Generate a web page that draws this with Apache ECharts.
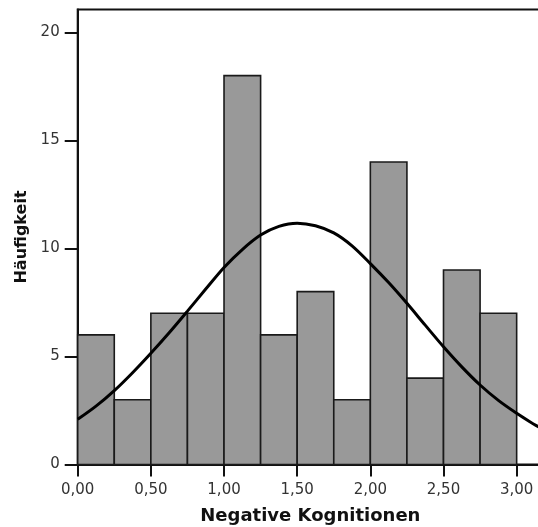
<!DOCTYPE html>
<html>
<head>
<meta charset="utf-8">
<script src="https://cdn.jsdelivr.net/npm/echarts@6/dist/echarts.min.js"></script>
<style>html,body{margin:0;padding:0;background:#fff;}#c{width:538px;height:527px;}</style>
</head>
<body>
<div id="c"></div>
<script>
// Histogram bins (left edge) and counts
const binStarts = [0, 0.25, 0.5, 0.75, 1.0, 1.25, 1.5, 1.75, 2.0, 2.25, 2.5, 2.75];
const binWidth = 0.25;
const counts = [6, 3, 7, 7, 18, 6, 8, 3, 14, 4, 9, 7];
// Normal curve points
const curveX = [0, 0.125, 0.25, 0.375, 0.5, 0.625, 0.75, 0.875, 1.0, 1.125, 1.25, 1.375, 1.5, 1.625, 1.75, 1.875, 2.0, 2.125, 2.25, 2.375, 2.5, 2.625, 2.75, 2.875, 3.0, 3.09, 3.18];
const curveY = [2.09, 2.7, 3.42, 4.25, 5.15, 6.1, 7.1, 8.12, 9.12, 9.95, 10.62, 11.02, 11.17, 11.05, 10.72, 10.12, 9.3, 8.42, 7.46, 6.45, 5.45, 4.52, 3.68, 2.97, 2.37, 1.98, 1.62];
// Ticks
const xTicks = [0, 0.5, 1.0, 1.5, 2.0, 2.5, 3.0];
const xTickLabels = ['0,00', '0,50', '1,00', '1,50', '2,00', '2,50', '3,00'];
const yTicks = [0, 5, 10, 15, 20];
const yTickLabels = ['0', '5', '10', '15', '20'];
const xTitle = 'Negative Kognitionen';
const yTitle = 'Häufigkeit';

const font = 'DejaVu Sans';
const chart = echarts.init(document.getElementById('c'), null, {renderer: 'canvas'});
const barData = binStarts.map((s, i) => [s, s + binWidth, counts[i]]);
const curveData = curveX.map((x, i) => [x, curveY[i]]);

chart.setOption({
  animation: false,
  backgroundColor: '#fff',
  grid: {left: 77.7, top: 9.5, right: -5, bottom: 62.5, show: true, borderColor: '#111', borderWidth: 2,
    containLabel: false, outerBoundsMode: 'none'},
  xAxis: {
    type: 'value', min: 0, max: 3.18,
    name: xTitle, nameLocation: 'middle', nameGap: 43,
    nameTextStyle: {fontFamily: font, fontWeight: 'bold', fontSize: 18, color: '#111'},
    axisLine: {show: true, lineStyle: {color: '#111', width: 2}},
    axisTick: {show: true, length: 12, lineStyle: {color: '#111', width: 2}, customValues: xTicks},
    axisLabel: {show: true, margin: 18, fontFamily: font, fontSize: 15, color: '#333', customValues: xTicks,
      formatter: v => { const i = xTicks.findIndex(t => Math.abs(t - v) < 1e-6); return i >= 0 ? xTickLabels[i] : ''; }},
    splitLine: {show: false}
  },
  yAxis: {
    type: 'value', min: 0, max: 21.06,
    name: yTitle, nameLocation: 'middle', nameGap: 47, nameRotate: 90,
    nameTextStyle: {fontFamily: font, fontWeight: 'bold', fontSize: 16, color: '#111'},
    axisLine: {show: true, lineStyle: {color: '#111', width: 2}},
    axisTick: {show: true, length: 13, lineStyle: {color: '#111', width: 2}, customValues: yTicks},
    axisLabel: {show: true, margin: 18, fontFamily: font, fontSize: 15, color: '#333', customValues: yTicks,
      formatter: v => { const i = yTicks.findIndex(t => Math.abs(t - v) < 1e-6); return i >= 0 ? yTickLabels[i] : ''; }},
    splitLine: {show: false}
  },
  series: [
    {
      type: 'custom',
      data: barData,
      encode: {x: [0, 1], y: 2},
      renderItem: function (params, api) {
        const p0 = api.coord([api.value(0), api.value(2)]);
        const p1 = api.coord([api.value(1), 0]);
        return {
          type: 'rect',
          shape: {x: p0[0], y: p0[1], width: p1[0] - p0[0], height: p1[1] - p0[1]},
          style: {fill: '#999999', stroke: '#1a1a1a', lineWidth: 1.6}
        };
      },
      z: 2
    },
    {
      type: 'line',
      data: curveData,
      smooth: 0.3,
      showSymbol: false,
      lineStyle: {color: '#000', width: 3},
      z: 3
    }
  ]
});
</script>
</body>
</html>
